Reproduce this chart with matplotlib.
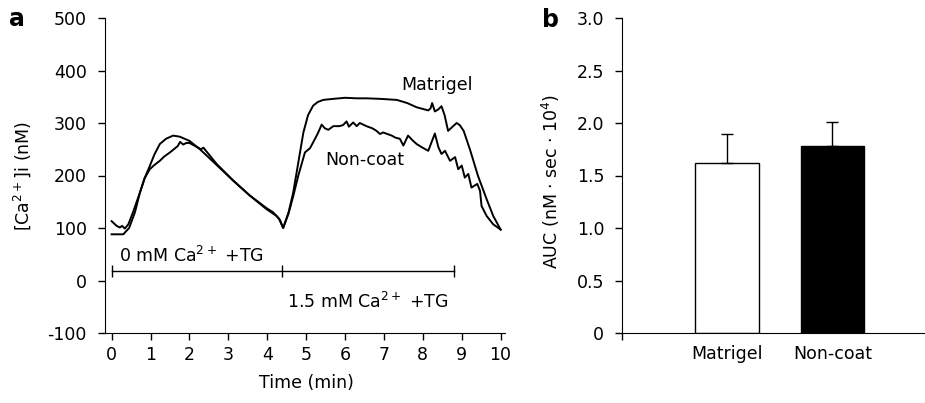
import matplotlib
matplotlib.use("Agg")
import matplotlib.pyplot as plt

plt.rcParams['font.family'] = ['DejaVu Sans']
plt.rcParams['mathtext.fontset'] = 'dejavusans'

FS = 12.5

# ---- Panel a data: time (min) and [Ca2+]i (nM) ----
t_matrigel = [0, 0.3, 0.45, 0.6, 0.73, 0.85, 0.98, 1.1, 1.24, 1.4, 1.58, 1.75, 2.0,
              2.27, 2.7, 3.13, 3.55, 3.98, 4.24, 4.33, 4.41, 4.55, 4.67, 4.8, 4.93,
              5.05, 5.18, 5.3, 5.44, 5.7, 6.0, 6.3, 6.55, 6.9, 7.33, 7.6, 7.84,
              8.14, 8.2, 8.24, 8.31, 8.4, 8.48, 8.56, 8.65, 8.75, 8.87, 8.95, 9.05,
              9.21, 9.42, 9.64, 9.81, 10.0]
ca_matrigel = [88, 88, 100, 130, 168, 195, 218, 240, 260, 270, 276, 274, 266,
               250, 220, 190, 162, 136, 123, 115, 100, 130, 168, 225, 282,
               315, 333, 340, 344, 346, 348, 347, 347, 346, 344, 338, 330,
               324, 328, 338, 322, 326, 332, 315, 285, 292, 300, 296, 285,
               250, 199, 155, 123, 97]

t_noncoat = [0, 0.13, 0.21, 0.27, 0.34, 0.43, 0.55, 0.73, 0.85, 0.98, 1.1, 1.24,
             1.35, 1.5, 1.6, 1.7, 1.76, 1.84, 1.92, 2.0, 2.3, 2.36, 2.7, 3.13,
             3.55, 3.98, 4.15, 4.3, 4.41, 4.55, 4.67, 4.8, 4.97, 5.1, 5.18, 5.3,
             5.40, 5.48, 5.57, 5.70, 5.85, 5.95, 6.04, 6.1, 6.21, 6.3, 6.38, 6.55,
             6.7, 6.81, 6.9, 6.98, 7.2, 7.3, 7.41, 7.5, 7.62, 7.75, 7.84, 7.97,
             8.14, 8.31, 8.40, 8.48, 8.57, 8.70, 8.83, 8.91, 9.0, 9.08, 9.17,
             9.25, 9.40, 9.47, 9.51, 9.64, 9.81, 10.0]
ca_noncoat = [113, 104, 101, 104, 99, 107, 130, 168, 195, 212, 220, 228,
              236, 244, 250, 256, 264, 259, 262, 262, 250, 253, 222, 190,
              162, 138, 130, 118, 100, 128, 161, 200, 244, 252, 263, 280,
              297, 290, 287, 294, 294, 296, 303, 293, 301, 294, 300, 294,
              290, 285, 279, 282, 276, 272, 270, 257, 276, 266, 260, 254,
              247, 280, 254, 241, 247, 228, 235, 212, 219, 196, 203,
              177, 184, 171, 142, 123, 107, 97]

# treatment periods (min)
period_edges = [0, 4.37, 8.8]
period_level = 18

# ---- Panel b data ----
groups = ['Matrigel', 'Non-coat']
auc = [1.615, 1.78]
auc_err = [0.28, 0.234]
bar_colors = ['white', 'black']

W, H = 925, 403
fig = plt.figure(figsize=(W / 100, H / 100), dpi=100)

# Panel a
ax1 = fig.add_axes([105 / W, 70 / H, 399.5 / W, 315 / H])
ax1.plot(t_matrigel, ca_matrigel, color='black', lw=1.4)
ax1.plot(t_noncoat, ca_noncoat, color='black', lw=1.4)
ax1.set_xlim(-0.17, 10.1)
ax1.set_ylim(-100, 500)
ax1.set_xticks(range(0, 11))
ax1.set_yticks(range(-100, 501, 100))
ax1.set_yticklabels([str(v) for v in range(-100, 501, 100)])
for s in ['top', 'right']:
    ax1.spines[s].set_visible(False)
ax1.tick_params(axis='both', direction='out', length=5, width=1, labelsize=FS)
ax1.tick_params(axis='y', pad=8)
ax1.tick_params(axis='x', pad=4)
ax1.set_xlabel('Time (min)', fontsize=FS)
ax1.xaxis.set_label_coords(0.503, -0.13)
ax1.set_ylabel('[Ca$^{2+}$]i (nM)', fontsize=FS)
ax1.yaxis.set_label_coords(-0.18, 0.5)

# period bracket
ax1.plot([period_edges[0], period_edges[-1]], [period_level, period_level], color='black', lw=1)
ax1.vlines(period_edges, period_level - 12, period_level + 12, color='black', lw=1)
ax1.text(0.19, 46, '0 mM Ca$^{2+}$ +TG', fontsize=FS, va='center', ha='left')
ax1.text(4.5, -40, '1.5 mM Ca$^{2+}$ +TG', fontsize=FS, va='center', ha='left')
ax1.text(7.44, 373, 'Matrigel', fontsize=FS, va='center', ha='left')
ax1.text(5.49, 229, 'Non-coat', fontsize=FS, va='center', ha='left')

# Panel b
ax2 = fig.add_axes([621.7 / W, 70 / H, 303.3 / W, 315 / H])
x = list(range(len(groups)))
ax2.bar(x, auc, width=0.6, color=bar_colors, edgecolor='black', linewidth=1,
        yerr=[[0] * len(auc), auc_err], capsize=4.3,
        error_kw=dict(ecolor='black', elinewidth=1, capthick=1))
ax2.set_xlim(-1.0, 1.88)
ax2.set_ylim(0, 3.0)
ax2.set_yticks([0, 0.5, 1.0, 1.5, 2.0, 2.5, 3.0])
ax2.set_yticklabels(['0', '0.5', '1.0', '1.5', '2.0', '2.5', '3.0'])
ax2.set_xticks(x)
ax2.set_xticklabels(groups)
ax2.set_xticks([-1.0], minor=True)
for s in ['top', 'right']:
    ax2.spines[s].set_visible(False)
ax2.tick_params(axis='y', direction='out', length=5, width=1, labelsize=FS, pad=7.5)
ax2.tick_params(axis='x', which='major', length=0, labelsize=FS, pad=8.5)
ax2.tick_params(axis='x', which='minor', length=5, width=1)
ax2.set_ylabel('AUC (nM · sec · 10$^4$)', fontsize=FS)
ax2.yaxis.set_label_coords(-0.197, 0.48)

fig.text(16.5 / W, 1 - 19 / H, 'a', fontsize=17, fontweight='bold', ha='center', va='center')
fig.text(550.5 / W, 1 - 20 / H, 'b', fontsize=17, fontweight='bold', ha='center', va='center')

fig.savefig('out.png', dpi=100)
